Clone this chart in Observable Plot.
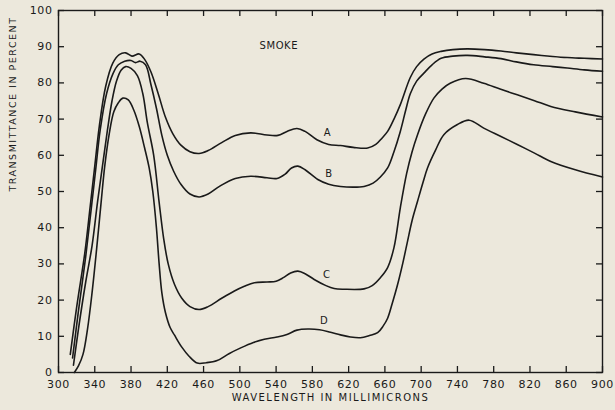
<!DOCTYPE html>
<html>
<head>
<meta charset="utf-8">
<script src="https://cdn.jsdelivr.net/npm/d3@7"></script>
<script src="https://cdn.jsdelivr.net/npm/@observablehq/plot@0.6"></script>
<style>
  html, body { margin: 0; padding: 0; background: #ece8dc; }
  #chart svg { background: #ece8dc; font-family: "DejaVu Sans", sans-serif; }
  #chart svg text { letter-spacing: 0.6px; }
</style>
</head>
<body>
<div id="chart"></div>
<script>
// Wavelength (millimicrons) and transmittance (percent) for each curve
const wlA = [313,320,329,335,340,345,352,360,367,374,381,389,395,402,410,418,426,435,445,455,465,480,495,512,530,542,552,563,572,585,598,611,625,641,650,657,663,670,677,688,695,703,712,722,735,751,770,788,805,824,845,861,880,900];
const tA  = [5,18,33,46,57,68,79,85.5,87.8,88.3,87.4,88.0,86.5,83,77,70.5,66,62.8,61,60.5,61.3,63.5,65.5,66.2,65.6,65.5,66.6,67.4,66.6,64.3,63,62.7,62.2,62.0,63,64.8,66.6,70,74,81.5,84.5,86.6,88,88.7,89.2,89.4,89.2,88.8,88.3,87.8,87.3,87.0,86.8,86.6];

const wlB = [315.5,322,330,336,341,346,353,360,366,373,380,385,390,396,402,408,414,420,427,435,445,455,465,478,495,512,530,541,550,557,564,572,586,598,611,625,637,647,655,663,670,677,683,688,695,703,712,722,735,751,770,788,805,824,845,861,880,900];
const tB  = [4,17,32,45,56,67,77,82.5,85,86,86.2,85.6,86,85,79.5,73,65.5,60,55.6,52,49.3,48.5,49.3,51.5,53.6,54.2,53.8,53.6,54.8,56.5,57,56,53.3,52,51.4,51.2,51.4,52.3,54,56.5,61,66.6,72.5,77,80.5,82.7,85,86.8,87.4,87.6,87.2,86.7,85.8,85.0,84.5,84.1,83.6,83.2];

const wlC = [316.5,322,330,337,343,349,354,359,364,369,374,380,387,393,398,405,411,416,421,428,436,445,455,465,480,494,505,516,530,540,548,556,564,572,582,595,604,615,637,646,655,663,670,677,684,690,696,705,714,723,732,749,769,787,806,825,843,870,900];
const tC  = [2,12,25,35,47,58,67,75,80.5,83.5,84.5,84,82,77,69,60,47,37,30,24.3,20.5,18.2,17.4,18.2,20.5,22.5,23.8,24.8,25,25.2,26.2,27.5,28,27.3,25.7,24,23.2,23,23.1,24,26.2,29,34.5,45.5,55,61,65.7,71.5,75.8,78.3,79.9,81.2,79.9,78.3,76.7,75.1,73.5,72,70.6];

const wlD = [317.5,322,327,332,337,342,347,351,356,361,366,371,377,383,389,395,400,404,408,411,414,418,423,428,436,444,453,463,475,488,501,515,527,541,552,563,575,588,600,611,622,633,643,652,658,663,668,674,680,685,690,696,702,707,716,725,740,753,769,788,806,825,843,870,900];
const tD  = [0,1.8,5,12,22,34,47,57,66,72,74.5,75.8,75.3,72.5,68,62,56.5,50,40,30,22,16.5,12.5,10.3,7,4.5,2.6,2.7,3.3,5.2,6.8,8.3,9.2,9.8,10.5,11.7,12,11.8,11.1,10.4,9.8,9.6,10.2,11,12.8,15,19,24.3,30.5,36.3,42,47.3,52.5,56.5,61.5,65.7,68.5,69.7,67.5,65.2,63,60.6,58.3,56,54];

// Curve labels
const curveNames = ["A", "B", "C", "D"];
const labelWl = [596.6, 598.4, 595.9, 592.9];
const labelT  = [66.3, 54.8, 27.1, 14.2];

// Axis ticks
const xTicks = d3.range(300, 901, 40);
const yTicks = d3.range(0, 101, 10);

const series = [[wlA, tA], [wlB, tB], [wlC, tC], [wlD, tD]];
const rows = series.flatMap(([w, t], i) => w.map((x, j) => ({curve: curveNames[i], x, y: t[j]})));
const labels = curveNames.map((c, i) => ({c, x: labelWl[i], y: labelT[i]}));

const ink = "#1a1a1a";

const chart = Plot.plot({
  width: 615,
  height: 410,
  marginLeft: 58,
  marginRight: 13,
  marginTop: 10,
  marginBottom: 38,
  style: {background: "#ece8dc", color: ink, fontSize: "11px"},
  x: {domain: [300, 900]},
  y: {domain: [0, 100]},
  marks: [
    Plot.frame({stroke: ink, strokeWidth: 1.4}),
    // inward ticks on all four sides
    Plot.ruleX(xTicks, {x: d => d, y1: 0, y2: 0, insetTop: -6, stroke: ink, strokeWidth: 1.3}),
    Plot.ruleX(xTicks, {x: d => d, y1: 100, y2: 100, insetBottom: -6, stroke: ink, strokeWidth: 1.3}),
    Plot.ruleY(yTicks, {y: d => d, x1: 300, x2: 300, insetRight: -6, stroke: ink, strokeWidth: 1.3}),
    Plot.ruleY(yTicks, {y: d => d, x1: 900, x2: 900, insetLeft: -6, stroke: ink, strokeWidth: 1.3}),
    Plot.axisX({ticks: xTicks, tickSize: 0, tickPadding: 8, label: null, tickFormat: d => String(d), fontSize: 11}),
    Plot.axisY({ticks: yTicks, tickSize: 0, tickPadding: 6, label: null, tickFormat: d => String(d), fontSize: 11}),
    Plot.line(rows, {x: "x", y: "y", z: "curve", stroke: ink, strokeWidth: 1.6, curve: "catmull-rom"}),
    Plot.text(labels, {x: "x", y: "y", text: "c", fontSize: 10, fill: ink}),
    Plot.text(["SMOKE"], {x: () => 543, y: () => 90.2, text: d => d, fontSize: 10, fill: ink}),
    Plot.text(["WAVELENGTH IN MILLIMICRONS"], {frameAnchor: "bottom", text: d => d, dy: 28, fontSize: 10, fill: ink}),
    Plot.text(["TRANSMITTANCE IN PERCENT"], {frameAnchor: "left", text: d => d, rotate: -90, dx: -46, fontSize: 9.5, fill: ink})
  ]
});

document.getElementById("chart").appendChild(chart);
d3.select(chart).selectAll("text").filter(function () {
  const t = this.textContent;
  return t === "WAVELENGTH IN MILLIMICRONS" || t === "TRANSMITTANCE IN PERCENT";
}).style("letter-spacing", "1.5px");
</script>
</body>
</html>
